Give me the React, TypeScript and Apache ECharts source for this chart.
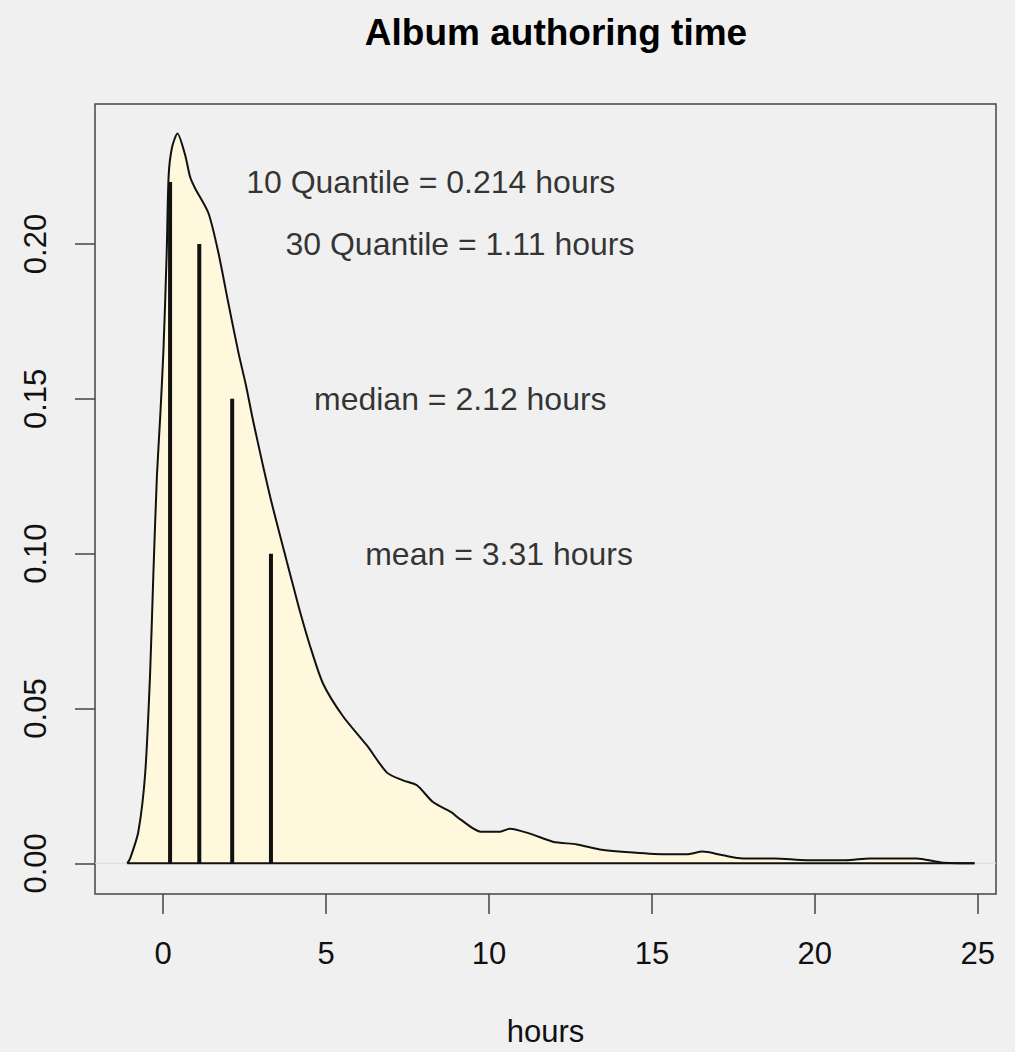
import React, { useEffect, useRef } from "react";
import * as echarts from "echarts";

const titleText = "Album authoring time";
const xName = "hours";
const xTicks = [0, 5, 10, 15, 20, 25];
const yTicks = [0, 0.05, 0.1, 0.15, 0.2];
const xRange = [-2.09, 25.56];
const yRange = [-0.0099, 0.2452];

// density curve (hours, density)
const densX = [
  -1.1, -1.01, -0.76, -0.55, -0.4, -0.3, -0.19, -0.09, 0.01, 0.11, 0.17, 0.27, 0.44, 0.67, 0.83, 0.98,
  1.39, 1.7, 2.0, 2.31, 2.55, 2.76, 3.28, 3.8, 4.0, 4.2, 4.5, 4.91, 5.52, 6.26, 6.87, 7.36, 7.79,
  8.28, 8.83, 9.11, 9.75, 10.34, 10.64, 11.26, 11.96, 12.7, 13.4, 14.42, 15.46, 16.07, 16.56, 17.18,
  17.79, 18.77, 19.75, 20.95, 21.69, 23.13, 23.87, 24.9,
];
const densY = [
  0, 0.0016, 0.0102, 0.029, 0.061, 0.093, 0.125, 0.144, 0.1655, 0.197, 0.222, 0.231, 0.2357, 0.229,
  0.2216, 0.218, 0.21, 0.197, 0.181, 0.165, 0.154, 0.143, 0.1186, 0.0973, 0.0893, 0.0813, 0.0705,
  0.058, 0.0475, 0.038, 0.0293, 0.0268, 0.0252, 0.0198, 0.0166, 0.0143, 0.0102, 0.0102, 0.0112, 0.0096,
  0.007, 0.0061, 0.0045, 0.0035, 0.0029, 0.0029, 0.0038, 0.0026, 0.0016, 0.0016, 0.001, 0.001, 0.0016,
  0.0016, 0.0003, 0,
];

// statistics markers
const statValues = [0.214, 1.11, 2.12, 3.31];
const statHeights = [0.22, 0.2, 0.15, 0.1];
const statLabelX = [8.214, 9.11, 9.12, 10.31];
const statLabels = [
  "10 Quantile = 0.214 hours",
  "30 Quantile = 1.11 hours",
  "median = 2.12 hours",
  "mean = 3.31 hours",
];

const FONT = "'Liberation Sans', Arial, Helvetica, sans-serif";

export default function App() {
  const ref = useRef<HTMLDivElement>(null);
  useEffect(() => {
    document.body.style.margin = "0";
    document.body.style.background = "#f0f0f0";
    document.documentElement.style.overflow = "hidden";
    const chart = echarts.init(ref.current!, null, { renderer: "svg" });
    const densData = densX.map((x, i) => [x, densY[i]]);
    const statSeries = statValues.map((q, i) => ({
      type: "line",
      data: [
        [q, 0],
        [q, statHeights[i]],
      ],
      symbol: "none",
      lineStyle: { color: "#111", width: 4, cap: "butt" },
      z: 4,
      silent: true,
    }));
    chart.setOption({
      animation: false,
      backgroundColor: "#f0f0f0",
      title: {
        text: titleText,
        left: 551,
        top: 9,
        textAlign: "center",
        textStyle: { fontFamily: FONT, fontSize: 37, fontWeight: "bold", color: "#000" },
      },
      grid: {
        left: 95,
        top: 104,
        width: 901,
        height: 807,
        show: true,
        borderColor: "#444",
        borderWidth: 1.5,
        backgroundColor: "transparent",
      },
      xAxis: {
        type: "value",
        min: xRange[0],
        max: xRange[1],
        name: xName,
        nameLocation: "middle",
        nameGap: 122,
        nameTextStyle: { fontFamily: FONT, fontSize: 31, color: "#111" },
        axisLine: { show: false, onZero: false },
        splitLine: { show: false },
        axisTick: { show: true, inside: false, length: 20, customValues: xTicks, lineStyle: { color: "#444", width: 1.5 } },
        axisLabel: {
          customValues: xTicks,
          margin: 44,
          fontFamily: FONT,
          fontSize: 31,
          color: "#111",
        },
      },
      yAxis: {
        type: "value",
        min: yRange[0],
        max: yRange[1],
        axisLine: { show: false, onZero: false },
        splitLine: { show: false },
        axisTick: { show: true, inside: false, length: 20, customValues: yTicks, lineStyle: { color: "#444", width: 1.5 } },
        axisLabel: {
          customValues: yTicks,
          rotate: 90,
          margin: 44,
          fontFamily: FONT,
          fontSize: 31,
          color: "#111",
          formatter: (v: number) => v.toFixed(2),
        },
      },
      series: [
        {
          type: "line",
          data: [
            [xRange[0], 0],
            [xRange[1], 0],
          ],
          symbol: "none",
          lineStyle: { color: "#dcdcdc", width: 1 },
          z: 1,
          silent: true,
        },
        {
          type: "line",
          data: densData,
          symbol: "none",
          smooth: 0.25,
          lineStyle: { color: "#111", width: 2 },
          areaStyle: { color: "#FFF8DC", opacity: 1 },
          z: 2,
          silent: true,
        },
        {
          type: "line",
          data: [
            [densX[0], 0],
            [densX[densX.length - 1], 0],
          ],
          symbol: "none",
          lineStyle: { color: "#111", width: 2 },
          z: 3,
          silent: true,
        },
        ...statSeries,
        {
          type: "scatter",
          data: statLabelX.map((x, i) => [x, statHeights[i], statLabels[i]]),
          symbolSize: 1,
          itemStyle: { color: "transparent" },
          label: {
            show: true,
            position: "inside",
            formatter: (p: any) => p.data[2],
            fontFamily: FONT,
            fontSize: 32,
            color: "#000",
          },
          z: 5,
          silent: true,
        },
      ],
    });
    return () => chart.dispose();
  }, []);
  return (
    <div
      ref={ref}
      style={{ position: "absolute", left: 0, top: 0, width: 1015, height: 1052, overflow: "hidden" }}
    />
  );
}
